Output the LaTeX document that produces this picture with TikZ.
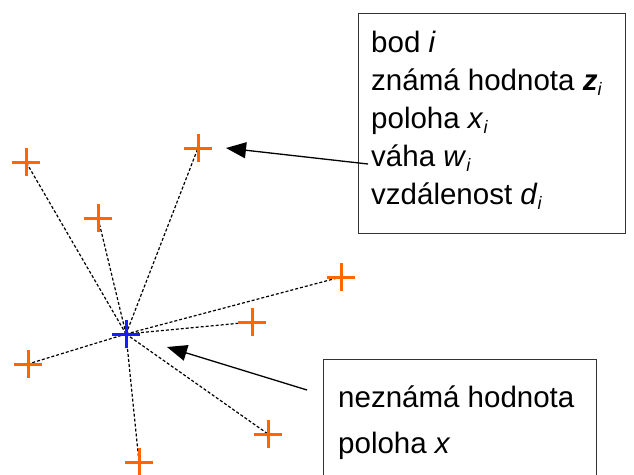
\documentclass[tikz,border=0pt]{standalone}
\usepackage{fontspec}
\setmainfont{Liberation Sans}
\usetikzlibrary{arrows.meta}
\definecolor{ptorange}{HTML}{FF6600}
\definecolor{ptblue}{HTML}{1A1AFF}
\newcommand{\subi}{\raisebox{-5pt}{\fontsize{18}{18}\selectfont\textit{i}}}
\begin{document}
\begin{tikzpicture}[x=1pt,y=-1pt,
  crossline/.style={line width=3pt},
  link/.style={line width=1.2pt, dash pattern=on 3pt off 2pt},
  pointer/.style={line width=1.3pt, -{Triangle[length=20pt,width=16pt]}},
  infobox/.style={draw=black!80, line width=1pt},
  txt/.style={anchor=base west, inner sep=0pt, font=\fontsize{29.5}{34}\selectfont}]
\useasboundingbox (0,0) rectangle (634,474);
% points
\coordinate (c) at (126,334);
\coordinate (p1) at (26,162);
\coordinate (p2) at (98,218);
\coordinate (p3) at (198,148);
\coordinate (p4) at (341,277);
\coordinate (p5) at (252,322);
\coordinate (p6) at (28,364);
\coordinate (p7) at (268,434);
\coordinate (p8) at (139,462);
% dotted links
\foreach \p in {p1,p2,p3,p4,p5,p6,p7,p8}
  \draw[link] (c) -- (\p);
% orange crosses
\foreach \p in {p1,p2,p3,p4,p5,p6,p7,p8}
  \draw[crossline, ptorange] ([xshift=-14pt]\p) -- ([xshift=14pt]\p)
                             ([yshift=-14pt]\p) -- ([yshift=14pt]\p);
% blue cross
\draw[crossline, ptblue] ([xshift=-14pt]c) -- ([xshift=14pt]c)
                         ([yshift=-14pt]c) -- ([yshift=14pt]c);
% boxes
\node[infobox, minimum width=267pt, minimum height=220pt, anchor=north west, inner sep=0pt] (box1) at (358,13) {};
\node[infobox, minimum width=273pt, minimum height=130pt, anchor=north west, inner sep=0pt] (box2) at (323,359) {};
% text box 1
\node[txt] (t1) at (371,52) {bod \textit{i}};
\node[txt] (t2) at (371,90) {známá hodnota \textbf{\textit{z}}\subi};
\node[txt] (t3) at (371,128) {poloha \textit{x}\subi};
\node[txt] (t4) at (371,166) {váha \textit{w}\subi};
\node[txt] (t5) at (371,204) {vzdálenost \textit{d}\subi};
% text box 2
\node[txt] (t6) at (338,407) {neznámá hodnota};
\node[txt] (t7) at (338,453) {poloha \textit{x}};
% arrows
\coordinate (a1s) at (368,164);
\coordinate (a1e) at (226,148);
\coordinate (a2s) at (307,390);
\coordinate (a2e) at (167,347);
\draw[pointer] (a1s) -- (a1e);
\draw[pointer] (a2s) -- (a2e);
\end{tikzpicture}
\end{document}
